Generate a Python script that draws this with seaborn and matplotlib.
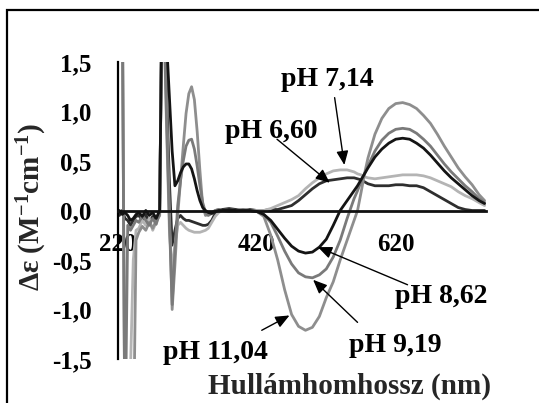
import matplotlib
matplotlib.use("Agg")
import matplotlib.pyplot as plt
import pandas as pd
import seaborn as sns
from matplotlib.patches import Rectangle

# CD spectra of the complex at different pH values
wavelength = [222, 226, 230, 234, 238, 242, 246, 250, 255, 260, 265, 270, 275, 280,
              284, 290, 294, 298, 302, 306, 310, 314, 318, 322, 326, 330, 334, 338,
              342, 346, 350, 355, 360, 365, 370, 380, 390, 400, 410, 420, 430, 440,
              450, 460, 470, 480, 490, 500, 510, 520, 530, 540, 550, 560, 565, 570,
              575, 580, 590, 600, 610, 620, 630, 640, 650, 660, 670, 680, 690, 700,
              710, 720, 730, 740, 748]

de_ph_660 = [-0.05, 0.0, -0.08, -0.1, -0.15, -0.1, -0.06, -0.05, -0.1, -0.04, -0.12, -0.06, -0.1, 0.0,
             2.6, 1.2, 0.3, -0.35, -0.2, -0.08, -0.05, -0.08, -0.1, -0.1, -0.11, -0.12, -0.13, -0.14,
             -0.15, -0.15, -0.14, -0.1, -0.03, 0.0, 0.01, 0.02, 0.01, 0.0, 0.01, 0.0, 0.0, 0.01,
             0.01, 0.03, 0.05, 0.1, 0.16, 0.22, 0.27, 0.3, 0.31, 0.32, 0.33, 0.33, 0.32, 0.31,
             0.29, 0.27, 0.25, 0.25, 0.25, 0.26, 0.26, 0.25, 0.25, 0.23, 0.19, 0.15, 0.11, 0.07,
             0.03, 0.01, 0.0, 0.0, 0.0]

de_ph_714 = [2.5, 2.5, -2.5, -2.5, -1.6, -0.5, -0.2, -0.18, -0.1, -0.15, -0.08, -0.2, -0.12, -0.05,
             2.6, 0.8, -0.2, -0.6, -0.35, -0.15, -0.12, -0.15, -0.18, -0.2, -0.21, -0.22, -0.22, -0.22,
             -0.21, -0.2, -0.18, -0.12, -0.06, -0.02, 0.0, 0.01, 0.0, 0.01, 0.0, 0.0, 0.0, 0.02,
             0.05, 0.08, 0.11, 0.15, 0.22, 0.28, 0.33, 0.37, 0.40, 0.41, 0.41, 0.39, 0.37, 0.36,
             0.34, 0.33, 0.32, 0.33, 0.34, 0.35, 0.36, 0.36, 0.36, 0.35, 0.33, 0.30, 0.27, 0.24,
             0.19, 0.15, 0.12, 0.08, 0.05]

de_ph_862 = [0.0, -0.04, -0.02, -0.05, -0.1, -0.08, -0.04, -0.02, -0.06, 0.0, -0.05, -0.02, -0.08, 0.0,
             2.6, 1.7, 1.15, 0.6, 0.25, 0.3, 0.38, 0.44, 0.47, 0.47, 0.42, 0.32, 0.2, 0.1,
             0.03, 0.0, -0.02, -0.03, -0.01, 0.0, 0.0, 0.01, 0.0, 0.0, 0.0, -0.01, -0.04, -0.1,
             -0.19, -0.28, -0.36, -0.41, -0.43, -0.42, -0.37, -0.29, -0.15, 0.0, 0.1, 0.2, 0.25, 0.31,
             0.37, 0.43, 0.54, 0.62, 0.68, 0.72, 0.73, 0.72, 0.68, 0.63, 0.56, 0.48, 0.40, 0.33,
             0.27, 0.21, 0.15, 0.10, 0.07]

de_ph_919 = [2.5, 2.5, -2.5, -0.15, -0.2, -0.15, -0.1, -0.12, -0.05, -0.1, -0.15, -0.08, -0.14, -0.02,
             2.6, 0.9, -0.1, -0.95, -0.4, 0.05, 0.3, 0.5, 0.65, 0.71, 0.72, 0.62, 0.45, 0.25,
             0.08, -0.02, -0.05, -0.03, 0.0, 0.01, 0.0, -0.01, 0.0, 0.01, 0.0, -0.01, -0.04, -0.12,
             -0.26, -0.41, -0.54, -0.63, -0.67, -0.68, -0.65, -0.59, -0.47, -0.3, -0.08, 0.12, 0.2, 0.29,
             0.37, 0.45, 0.6, 0.71, 0.78, 0.82, 0.83, 0.82, 0.78, 0.72, 0.65, 0.56, 0.47, 0.39,
             0.32, 0.25, 0.19, 0.12, 0.08]

de_ph_1104 = [2.5, 2.5, -2.5, -2.5, -2.5, -2.5, -0.3, -0.22, -0.16, -0.2, -0.12, -0.18, -0.1, -0.05,
              2.6, 1.05, 0.0, -1.0, -0.55, -0.05, 0.3, 0.65, 0.98, 1.18, 1.25, 1.12, 0.8, 0.4,
              0.05, -0.05, -0.04, -0.02, 0.0, 0.01, 0.0, 0.0, -0.01, 0.0, 0.0, -0.01, -0.06, -0.25,
              -0.5, -0.8, -1.05, -1.17, -1.21, -1.18, -1.07, -0.88, -0.72, -0.5, -0.3, -0.1, 0.0, 0.18,
              0.37, 0.53, 0.77, 0.93, 1.03, 1.08, 1.09, 1.07, 1.03, 0.96, 0.88, 0.77, 0.65, 0.54,
              0.43, 0.34, 0.26, 0.16, 0.1]

ph_names = ["pH 6,60", "pH 7,14", "pH 11,04", "pH 9,19", "pH 8,62"]
series = [de_ph_660, de_ph_714, de_ph_1104, de_ph_919, de_ph_862]
line_colors = ["#2e2e2e", "#b4b4b4", "#8e8e8e", "#7a7a7a", "#141414"]

x_ticks = [220, 420, 620]
y_ticks = [-1.5, -1.0, -0.5, 0.0, 0.5, 1.0, 1.5]
y_tick_labels = ["-1,5", "-1,0", "-0,5", "0,0", "0,5", "1,0", "1,5"]

rows = []
for name, vals in zip(ph_names, series):
    assert len(vals) == len(wavelength), name
    for w, v in zip(wavelength, vals):
        rows.append({"wl": w, "de": v, "pH": name})
df = pd.DataFrame(rows)

sns.set_theme(style="white")
plt.rcParams["font.family"] = ["Liberation Serif", "DejaVu Serif"]
plt.rcParams["font.weight"] = "bold"
plt.rcParams["mathtext.fontset"] = "custom"
plt.rcParams["mathtext.rm"] = "Liberation Serif:bold"
plt.rcParams["mathtext.bf"] = "Liberation Serif:bold"
plt.rcParams["mathtext.default"] = "bf"

W, H = 539, 403
fig = plt.figure(figsize=(W / 100, H / 100), dpi=100)
fig.patch.set_facecolor("white")
ax = fig.add_axes([118 / W, 1 - 359 / H, (486 - 118) / W, (359 - 62) / H])
ax.set_facecolor("white")

sns.lineplot(data=df, x="wl", y="de", hue="pH", hue_order=ph_names,
             palette=dict(zip(ph_names, line_colors)), estimator=None,
             linewidth=2.0, legend=False, ax=ax)

ax.set_xlim(220, 750)
ax.set_ylim(-1.5, 1.5)
ax.set_xlabel("")
ax.set_ylabel("")

for side in ("top", "right"):
    ax.spines[side].set_visible(False)
ax.spines["left"].set_color("black")
ax.spines["left"].set_linewidth(1.6)
ax.spines["bottom"].set_position(("data", 0))
ax.spines["bottom"].set_color("#111111")
ax.spines["bottom"].set_linewidth(2.0)

ax.set_xticks(x_ticks)
ax.set_xticklabels([str(t) for t in x_ticks])
ax.set_yticks(y_ticks)
ax.set_yticklabels(y_tick_labels)
ax.tick_params(axis="x", direction="in", length=5, width=2, colors="black",
               pad=16, labelsize=18)
ax.tick_params(axis="y", direction="in", length=4, width=1.6, colors="black",
               pad=19, labelsize=18)
for lab in ax.get_xticklabels() + ax.get_yticklabels():
    lab.set_fontweight("bold")

# pH labels with arrows pointing at the curves
label_kw = dict(fontsize=20, fontweight="bold", ha="center", va="center",
                color="black", annotation_clip=False)
arrow_kw = dict(arrowstyle="-|>,head_length=0.7,head_width=0.3", color="black",
                lw=1.0, shrinkA=0, shrinkB=0)

ax.annotate("pH 7,14", xy=(522, 1.32), xycoords="data", **label_kw)
ax.annotate("", xy=(546, 0.46), xytext=(532, 1.14), arrowprops=arrow_kw,
            annotation_clip=False)

ax.annotate("pH 6,60", xy=(441, 0.80), xycoords="data", **label_kw)
ax.annotate("", xy=(525, 0.28), xytext=(449, 0.72), arrowprops=arrow_kw,
            annotation_clip=False)

ax.annotate("pH 8,62", xy=(686, -0.87), xycoords="data", **label_kw)
ax.annotate("", xy=(508, -0.37), xytext=(637, -0.75), arrowprops=arrow_kw,
            annotation_clip=False)

ax.annotate("pH 9,19", xy=(620, -1.36), xycoords="data", **label_kw)
ax.annotate("", xy=(501, -0.70), xytext=(565, -1.13), arrowprops=arrow_kw,
            annotation_clip=False)

ax.annotate("pH 11,04", xy=(361, -1.43), xycoords="data", **label_kw)
ax.annotate("", xy=(467, -1.06), xytext=(427, -1.21), arrowprops=arrow_kw,
            annotation_clip=False)

fig.text(350 / W, 1 - 386 / H, "Hullámhomhossz (nm)", fontsize=21,
         fontweight="bold", ha="center", va="center")
fig.text(32 / W, 1 - 207 / H, r"Δε (M$^{-1}$cm$^{-1}$)", fontsize=21,
         fontweight="bold", ha="center", va="center", rotation=90)

# outer frame
fig.add_artist(Rectangle((7 / W, -0.2), 1.2, 1.2 - 10 / H, transform=fig.transFigure,
                         fill=False, edgecolor="black", linewidth=1.6))

fig.savefig("out.png", dpi=100, facecolor="white")
